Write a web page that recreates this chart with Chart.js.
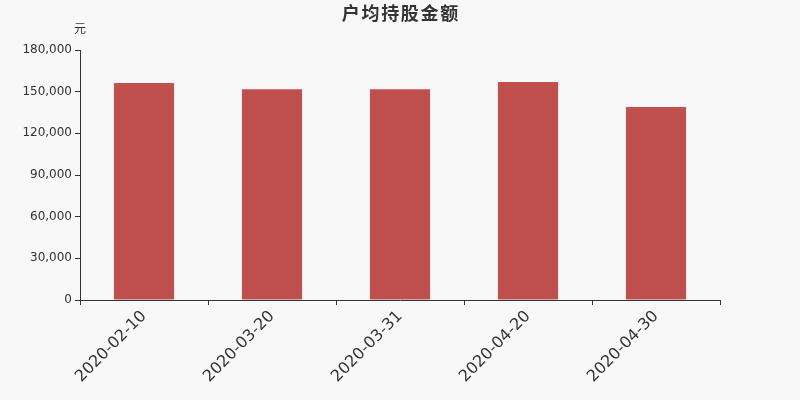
<!DOCTYPE html>
<html>
<head>
<meta charset="utf-8">
<script src="https://cdn.jsdelivr.net/npm/chart.js@4/dist/chart.umd.min.js"></script>
<style>
html,body{margin:0;padding:0;background:#f8f8f8;}
#wrap{width:800px;height:400px;position:relative;}
</style>
</head>
<body>
<div id="wrap"><canvas id="c" width="800" height="400"></canvas></div>
<script>
const categories = ['2020-02-10', '2020-03-20', '2020-03-31', '2020-04-20', '2020-04-30'];
const values = [156200, 151700, 151700, 157000, 139000];
const yTicks = [0, 30000, 60000, 90000, 120000, 150000, 180000];
const titleText = '户均持股金额';
const unitText = '元';

const textPlugin = {
  id: 'texts',
  afterDraw(chart) {
    const ctx = chart.ctx;
    ctx.save();
    ctx.fillStyle = '#333';
    ctx.textBaseline = 'middle';
    ctx.font = 'bold 18px "Noto Sans CJK SC", sans-serif';
    const sp = 1.7;
    if ('letterSpacing' in ctx) {
      ctx.letterSpacing = sp + 'px';
      ctx.textAlign = 'left';
      const w = ctx.measureText(titleText).width - sp;
      ctx.fillText(titleText, 400 - w / 2, 13.5);
      ctx.letterSpacing = '0px';
    } else {
      ctx.textAlign = 'center';
      ctx.fillText(titleText, 400, 13.5);
    }
    ctx.textAlign = 'center';
    ctx.font = '12px "Noto Sans CJK SC", sans-serif';
    ctx.fillText(unitText, chart.chartArea.left, 28);
    ctx.restore();
  }
};
const bgPlugin = {
  id: 'bg',
  beforeDraw(chart) {
    const ctx = chart.ctx;
    ctx.save();
    ctx.fillStyle = '#f8f8f8';
    ctx.fillRect(0, 0, chart.width, chart.height);
    ctx.restore();
  }
};

new Chart(document.getElementById('c'), {
  type: 'bar',
  data: {
    labels: categories,
    datasets: [{
      data: values,
      backgroundColor: '#c0504d',
      borderWidth: 0,
      barPercentage: 0.47,
      categoryPercentage: 1.0
    }]
  },
  options: {
    responsive: false,
    animation: false,
    devicePixelRatio: 1,
    layout: { padding: { top: 50, right: 80, left: 0, bottom: 0 } },
    plugins: { legend: { display: false }, tooltip: { enabled: false }, title: { display: false } },
    scales: {
      x: {
        offset: true,
        grid: { display: true, drawOnChartArea: false, offset: true, tickLength: 5, color: '#333' },
        border: { display: true, color: '#333', width: 1 },
        ticks: {
          color: '#333',
          font: { size: 16, family: '"DejaVu Sans", sans-serif' },
          maxRotation: 45, minRotation: 45,
          padding: 2
        },
        afterFit(scale) { scale.height = 100; }
      },
      y: {
        min: 0, max: 180000,
        afterBuildTicks(scale) { scale.ticks = yTicks.map(v => ({ value: v })); },
        grid: { display: true, drawOnChartArea: false, tickLength: 5, color: '#333' },
        border: { display: true, color: '#333', width: 1 },
        ticks: {
          color: '#333',
          font: { size: 12, family: '"DejaVu Sans", sans-serif' },
          padding: 3,
          callback: v => v.toLocaleString('en-US')
        },
        afterFit(scale) { scale.width = 80; }
      }
    }
  },
  plugins: [bgPlugin, textPlugin]
});
</script>
</body>
</html>
